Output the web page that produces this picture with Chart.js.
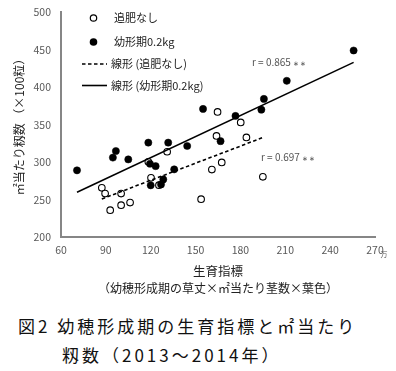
<!DOCTYPE html>
<html><head><meta charset="utf-8">
<script src="https://cdn.jsdelivr.net/npm/chart.js@4"></script>
<style>
html,body{margin:0;padding:0;background:#fff;}
#wrap{position:relative;width:396px;height:371px;overflow:hidden;}
#c{position:absolute;left:0;top:0;}
.cap{position:absolute;font-family:"Noto Sans CJK JP";font-size:17px;color:#111;letter-spacing:3px;white-space:nowrap;}
</style></head>
<body><div id="wrap"><canvas id="c" width="396" height="300"></canvas>
<div class="cap" style="left:18px;top:313px;">図2 幼穂形成期の生育指標と㎡当たり</div>
<div class="cap" style="left:62px;top:342px;">籾数（2013～2014年）</div>
</div>
<script>
const seriesNames = ["追肥なし", "幼形期0.2kg"];
const trendNames = ["線形 (追肥なし)", "線形 (幼形期0.2kg)"];
const rLabels = ["r = 0.697", "r = 0.865"];
const rMarks = "∗ ∗";
const xTickValues = [60, 90, 120, 150, 180, 210, 240, 270];
const yTickValues = [200, 250, 300, 350, 400, 450, 500];

const openX = [87.3, 89.5, 100.2, 92.9, 100.2, 106.2, 120.2, 125.5, 131.0, 118.4, 153.7, 160.9, 167.5, 164.0, 164.7, 180.2, 184.0, 195.0];
const openY = [265.6, 258.0, 258.0, 235.8, 242.5, 246.0, 279.0, 269.2, 313.8, 300.5, 250.5, 290.0, 299.6, 335.0, 367.0, 353.0, 333.0, 280.4];
const fillX = [70.7, 94.7, 96.7, 105.0, 118.4, 119.5, 123.3, 120.0, 131.7, 126.9, 128.4, 135.7, 144.4, 155.0, 166.7, 176.7, 194.0, 195.7, 211.0, 255.7];
const fillY = [289.0, 306.0, 314.8, 303.6, 326.0, 297.8, 294.6, 269.0, 326.0, 270.2, 276.9, 290.3, 321.5, 371.0, 328.0, 361.6, 370.0, 384.4, 408.5, 449.0];

function pts(xs, ys){ return xs.map((x,i)=>({x:x, y:ys[i]})); }
function trend(xs, ys){
  const n = xs.length;
  const mx = xs.reduce((a,b)=>a+b,0)/n, my = ys.reduce((a,b)=>a+b,0)/n;
  let sxy=0, sxx=0;
  for(let i=0;i<n;i++){ sxy += (xs[i]-mx)*(ys[i]-my); sxx += (xs[i]-mx)*(xs[i]-mx); }
  const b = sxy/sxx, a = my - b*mx;
  const x0 = Math.min(...xs), x1 = Math.max(...xs);
  return [{x:x0, y:a+b*x0}, {x:x1, y:a+b*x1}];
}

const FONT = '"Noto Sans CJK JP"';
const textPlugin = {
  id:'texts',
  afterDraw(chart){
    const ctx = chart.ctx;
    ctx.save();
    // legend
    ctx.font = '11px ' + FONT;
    ctx.textBaseline = 'middle';
    ctx.textAlign = 'left';
    ctx.beginPath(); ctx.arc(93.5, 18, 3.2, 0, Math.PI*2); ctx.fillStyle='#fff'; ctx.fill();
    ctx.lineWidth = 1.2; ctx.strokeStyle = '#000'; ctx.stroke();
    ctx.beginPath(); ctx.arc(93.5, 42, 3.8, 0, Math.PI*2); ctx.fillStyle='#000'; ctx.fill();
    ctx.strokeStyle='#000'; ctx.lineWidth = 1.6;
    ctx.setLineDash([3.5,2.5]); ctx.beginPath(); ctx.moveTo(82,64); ctx.lineTo(107,64); ctx.stroke();
    ctx.setLineDash([]); ctx.beginPath(); ctx.moveTo(82,85.5); ctx.lineTo(107,85.5); ctx.stroke();
    ctx.fillStyle = '#222';
    ctx.fillText(seriesNames[0], 114, 18);
    ctx.fillText(seriesNames[1], 114, 42);
    ctx.fillText(trendNames[0], 111, 64);
    ctx.fillText(trendNames[1], 111, 86);
    // r labels
    ctx.fillStyle = '#555';
    ctx.font = '10px ' + FONT;
    let w = ctx.measureText(rLabels[1]).width;
    ctx.fillText(rLabels[1], 252, 62);
    ctx.font = '7px ' + FONT;
    ctx.fillText(rMarks, 252 + w + 2, 63);
    ctx.font = '10px ' + FONT;
    w = ctx.measureText(rLabels[0]).width;
    ctx.fillText(rLabels[0], 261, 157.5);
    ctx.font = '7px ' + FONT;
    ctx.fillText(rMarks, 261 + w + 2, 158.5);
    // y title
    ctx.save();
    ctx.translate(19, 124);
    ctx.rotate(-Math.PI/2);
    ctx.textAlign = 'center';
    ctx.fillStyle = '#222';
    ctx.font = '12px ' + FONT;
    ctx.fillText('㎡当たり籾数 （×100粒）', 0, 0);
    ctx.restore();
    // x title
    ctx.textAlign = 'center';
    ctx.fillStyle = '#222';
    ctx.font = '12.5px ' + FONT;
    ctx.fillText('生育指標', 218, 271);
    ctx.font = '12px ' + FONT;
    ctx.fillText('（幼穂形成期の草丈×㎡当たり茎数×葉色）', 218, 288);
    // 万 unit
    ctx.textAlign = 'left';
    ctx.fillStyle = '#595959';
    ctx.font = '7px ' + FONT;
    ctx.fillText('万', 380.5, 254);
    ctx.restore();
  }
};

new Chart(document.getElementById('c'), {
  type:'scatter',
  data:{ datasets:[
    {label:trendNames[1], type:'line', data:trend(fillX, fillY), borderColor:'#000', borderWidth:1.6, pointRadius:0, showLine:true, fill:false, order:0},
    {label:trendNames[0], type:'line', data:trend(openX, openY), borderColor:'#000', borderWidth:1.6, borderDash:[3.5,2.5], pointRadius:0, showLine:true, fill:false, order:1},
    {label:seriesNames[1], data:pts(fillX, fillY), backgroundColor:'#000', borderColor:'#000', pointRadius:3.6, borderWidth:0.5, order:2},
    {label:seriesNames[0], data:pts(openX, openY), backgroundColor:'#fff', borderColor:'#000', pointRadius:3.3, borderWidth:1.1, order:3}
  ]},
  options:{
    responsive:false, animation:false,
    layout:{padding:{left:0, right:21, top:12, bottom:0}},
    plugins:{legend:{display:false}, tooltip:{enabled:false}},
    scales:{
      x:{type:'linear', min:60, max:270,
        afterBuildTicks(s){ s.ticks = xTickValues.map(v=>({value:v})); },
        afterFit(s){ s.height = 63; },
        grid:{display:false, drawOnChartArea:false, drawTicks:true, tickLength:4, tickColor:'#868686'},
        border:{display:true, color:'#868686', width:2},
        ticks:{color:'#595959', font:{family:FONT, size:10.5}, padding:3, maxRotation:0, autoSkip:false}
      },
      y:{type:'linear', min:200, max:500,
        afterBuildTicks(s){ s.ticks = yTickValues.map(v=>({value:v})); },
        afterFit(s){ s.width = 61; },
        grid:{display:false, drawOnChartArea:false, drawTicks:true, tickLength:4, tickColor:'#868686'},
        border:{display:true, color:'#868686', width:2},
        ticks:{color:'#595959', font:{family:FONT, size:10.5}, padding:6, autoSkip:false}
      }
    }
  },
  plugins:[textPlugin]
});
</script></body></html>
